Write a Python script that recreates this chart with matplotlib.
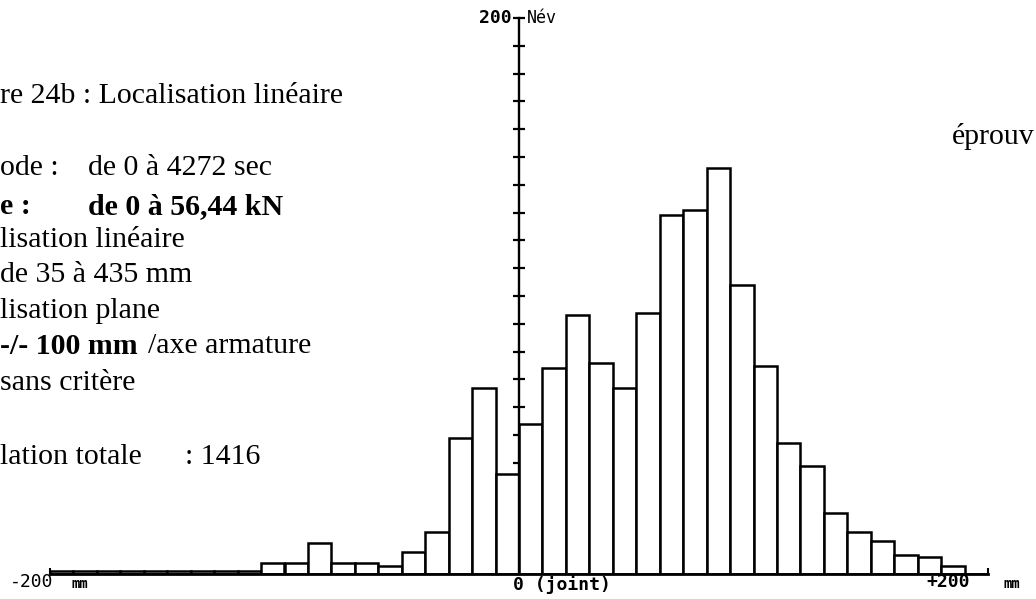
import matplotlib
matplotlib.use("Agg")
import matplotlib.pyplot as plt

# ---- data ----
bin_left = list(range(-200, 200, 10))          # 10 mm classes, -200 .. +190
counts = [1, 1, 1, 1, 1, 1, 1, 1, 1,           # -200 .. -120
          4, 4, 11, 4, 4, 3, 8, 15, 49, 67, 36,  # -110 .. -10
          54, 74, 93, 76, 67, 94, 129, 131, 146, 104,  # 0 .. 90
          75, 47, 39, 22, 15, 12, 7, 6, 3, 0]    # 100 .. 190
y_ticks = list(range(10, 201, 10))
x_end_ticks = [-200, 200]

info_lines = [
    ("re 24b : Localisation linéaire", 0, 96, "normal"),
    ("ode :", 0, 168, "normal"),
    ("de 0 à 4272 sec", 88, 168, "normal"),
    ("e :", 0, 207, "bold"),
    ("de 0 à 56,44 kN", 88, 207, "bold"),
    ("lisation linéaire", 0, 240, "normal"),
    ("de 35 à 435 mm", 0, 275, "normal"),
    ("lisation plane", 0, 311, "normal"),
    ("-/- 100 mm", 0, 346, "bold"),
    ("/axe armature", 148, 346, "normal"),
    ("sans critère", 0, 383, "normal"),
    ("lation totale", 0, 457, "normal"),
    (": 1416", 185, 457, "normal"),
    ("éprouv", 952, 137, "normal"),
]

W, H = 1036, 599
fig = plt.figure(figsize=(W / 100, H / 100), dpi=100)
fig.patch.set_facecolor("white")

def fx(px):
    return px / W

def fy(py):
    return 1 - py / H

ax = fig.add_axes([fx(50), 1 - 574 / H, 938 / W, 556 / H])
ax.set_xlim(-200, 200)
ax.set_ylim(0, 200)
ax.set_facecolor("none")

ax.bar(bin_left, counts, width=10, align="edge", color="white",
       edgecolor="black", linewidth=1.8, zorder=2)

for s in ("top", "right"):
    ax.spines[s].set_visible(False)
ax.spines["left"].set_position(("data", 0))
ax.spines["left"].set_linewidth(1.7)
ax.spines["left"].set_zorder(3)
ax.spines["bottom"].set_linewidth(2.0)
ax.spines["bottom"].set_zorder(3)

ax.set_xticks(x_end_ticks)
ax.set_xticklabels([])
ax.tick_params(axis="x", direction="in", length=4, width=1.5, color="black")
ax.set_yticks(y_ticks)
ax.set_yticklabels([])
ax.tick_params(axis="y", direction="inout", length=8, width=1.6, color="black")

mono = "DejaVu Sans Mono"
fig.text(fx(512), fy(18), "200", ha="right", va="center", family=mono,
         fontsize=13, fontweight="bold")
fig.text(fx(527), fy(18), "Név", ha="left", va="center", family=mono,
         fontsize=12)
fig.text(fx(10), fy(582), "-200", ha="left", va="center", family=mono,
         fontsize=13)
fig.text(fx(72), fy(584), "mm", ha="left", va="center", family=mono,
         fontsize=10, fontweight="bold")
fig.text(fx(513), fy(585), "0 (joint)", ha="left", va="center", family=mono,
         fontsize=13, fontweight="bold")
fig.text(fx(970), fy(582), "+200", ha="right", va="center", family=mono,
         fontsize=13, fontweight="bold")
fig.text(fx(1003), fy(584), "mm", ha="left", va="center", family=mono,
         fontsize=10, fontweight="bold")

for txt, x, y, wt in info_lines:
    fig.text(fx(x), fy(y), txt, ha="left", va="center",
             family="Liberation Serif", fontsize=21.5, fontweight=wt)

fig.savefig("out.png", dpi=100, facecolor="white")
